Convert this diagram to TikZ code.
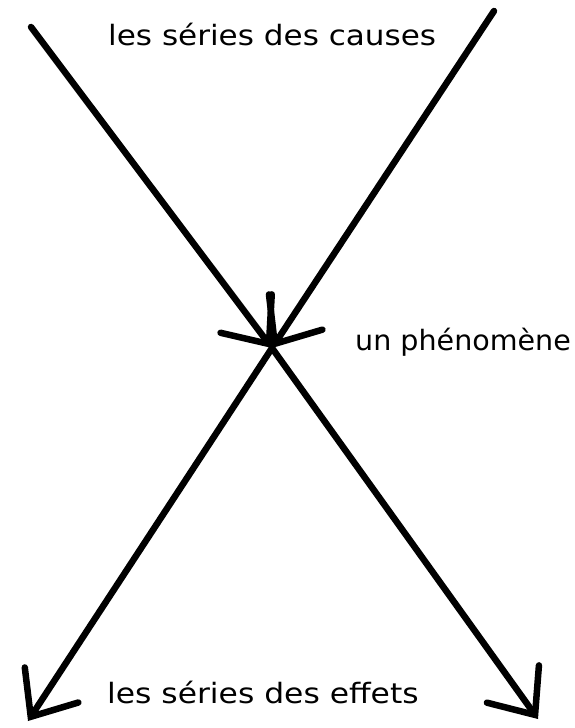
\documentclass[tikz,border=0pt]{standalone}
\usepackage{fontspec}
\setmainfont{DejaVu Sans}
\usetikzlibrary{arrows.meta}
\begin{document}
\begin{tikzpicture}[x=1pt,y=-1pt,
  conn/.style={line width=6.5pt,line cap=round,-{Straight Barb[length=38pt,width=64pt,line cap=round]}},
  lbl/.style={font=\fontsize{28}{30}\selectfont,inner sep=0pt,anchor=base west}]
\useasboundingbox[fill=white] (0,0) rectangle (575,728);
\coordinate (tl) at (31,27);
\coordinate (tr) at (494,11);
\coordinate (c) at (272,348);
\coordinate (bl) at (28,721);
\coordinate (br) at (538,719);
\draw[conn] (tl) -- (c);
\draw[conn] (tr) -- (c);
\draw[conn] (c) -- (bl);
\draw[conn] (c) -- (br);
\node[lbl] (causes) at (108,45) {\scalebox{1.11}[1]{les séries des causes}};
\node[lbl] (phen) at (355,350) {\scalebox{1.02}[1]{un phénomène}};
\node[lbl] (effets) at (107,703) {\scalebox{1.12}[1]{les séries des effets}};
\end{tikzpicture}
\end{document}
